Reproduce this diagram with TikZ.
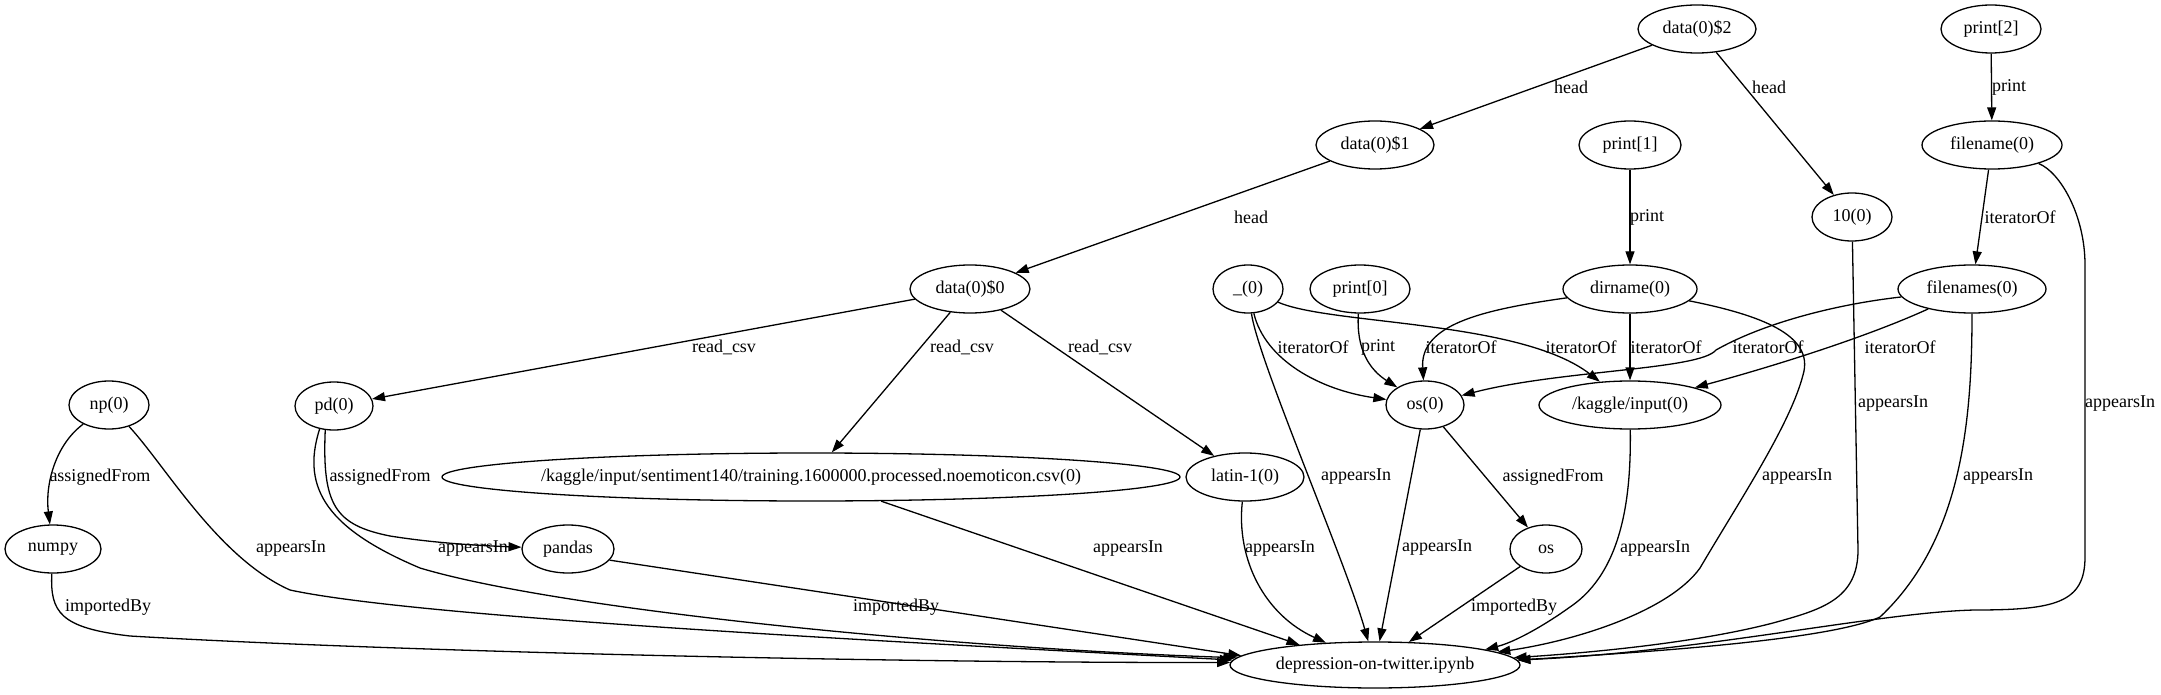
\documentclass[tikz,border=0pt]{standalone}
\usepackage{fontspec}
\setmainfont{Liberation Serif}
\usetikzlibrary{shapes.geometric,arrows.meta}
\newcommand{\gf}{\fontsize{18pt}{21pt}\selectfont}
\newcommand{\gvnode}[6]{\node[gnode, minimum width=#4pt, minimum height=#5pt, label={[nodetext]center:{#6}}] (#1) at (#2,#3) {};}
\begin{document}
\begin{tikzpicture}[x=1pt,y=-1pt,
  gnode/.style={ellipse, draw, line width=1.3pt, inner sep=0pt},
  nodetext/.style={font=\gf, inner sep=0pt},
  elbl/.style={font=\gf, inner sep=0pt},
  gedge/.style={draw, line width=1.3pt, -{Triangle[length=13pt,width=9pt]}}]
\fill[white] (0,0) rectangle (2161,695);
\useasboundingbox (0,0) rectangle (2161,695);

% nodes
\gvnode{d2}{1697}{29}{118}{48}{data(0)\$2}
\gvnode{p2}{1991}{29}{100}{48}{print[2]}
\gvnode{d1}{1375}{145}{118}{48}{data(0)\$1}
\gvnode{p1}{1630}{145}{102}{48}{print[1]}
\gvnode{fn}{1992}{145}{140}{48}{filename(0)}
\gvnode{ten}{1852}{217}{80}{48}{10(0)}
\gvnode{d0}{970}{289}{120}{48}{data(0)\$0}
\gvnode{u0}{1248}{289}{70}{48}{\_(0)}
\gvnode{p0}{1360}{289}{100}{48}{print[0]}
\gvnode{dir}{1630}{289}{134}{48}{dirname(0)}
\gvnode{fns}{1972}{289}{148}{48}{filenames(0)}
\gvnode{np}{109}{405}{80}{48}{np(0)}
\gvnode{pd}{334}{406}{78}{48}{pd(0)}
\gvnode{os0}{1425}{405}{78}{48}{os(0)}
\gvnode{kag}{1630}{405}{182}{48}{/kaggle/input(0)}
\gvnode{sent}{811}{477}{738}{48}{/kaggle/input/sentiment140/training.1600000.processed.noemoticon.csv(0)}
\gvnode{lat}{1245}{477}{118}{48}{latin-1(0)}
\gvnode{numpy}{53}{549}{96}{48}{numpy}
\gvnode{pandas}{568}{549}{92}{48}{pandas}
\gvnode{os}{1546}{549}{72}{48}{os}
\gvnode{dep}{1375}{665}{290}{46}{depression-on-twitter.ipynb}

% edges
\draw[gedge] (d2) -- (d1);
\draw[gedge] (d2) -- (ten);
\draw[gedge] (p2) -- (fn);
\draw[gedge] (d1) -- (d0);
\draw[gedge] (p1) -- (dir);
\draw[gedge] (fn) -- (fns);
\draw[gedge] (fn) .. controls (2060,172) and (2085,215) .. (2085,265) -- (2085,557) .. controls (2085,603) and (2055,610) .. (1975,610) .. controls (1880,612) and (1700,652) .. (dep.2);
\draw[gedge] (ten) -- (1858,550) .. controls (1858,600) and (1820,610) .. (1773,623) .. controls (1700,642) and (1600,652) .. (dep.3);
\draw[gedge] (fns) .. controls (1972,420) and (1962,540) .. (1880,617) .. controls (1830,640) and (1650,652) .. (dep.2.5);
\draw[gedge] (fns) .. controls (1830,305) and (1760,325) .. (1716,350) .. controls (1700,370) and (1560,370) .. (os0);
\draw[gedge] (fns) .. controls (1860,340) and (1760,370) .. (kag);
\draw[gedge] (dir) .. controls (1480,310) and (1420,325) .. (os0);
\draw[gedge] (dir) -- (kag);
\draw[gedge] (dir) .. controls (1760,315) and (1815,335) .. (1803,375) .. controls (1790,425) and (1740,500) .. (1700,568) .. controls (1670,610) and (1580,640) .. (dep.6);
\draw[gedge] (u0) .. controls (1265,360) and (1320,390) .. (os0);
\draw[gedge] (u0) .. controls (1330,325) and (1520,320) .. (kag);
\draw[gedge] (u0) .. controls (1258,360) and (1345,560) .. (dep);
\draw[gedge] (p0) .. controls (1356,350) and (1370,370) .. (os0);
\draw[gedge] (os0) -- (dep);
\draw[gedge] (os0) -- (os);
\draw[gedge] (os) -- (dep);
\draw[gedge] (kag) .. controls (1631,490) and (1625,570) .. (1570,607) .. controls (1545,625) and (1515,642) .. (dep.8);
\draw[gedge] (d0) -- (pd);
\draw[gedge] (d0) -- (sent);
\draw[gedge] (d0) -- (lat);
\draw[gedge] (np) .. controls (55,445) and (45,485) .. (numpy);
\draw[gedge] (np) .. controls (165,465) and (218,558) .. (290,590) .. controls (420,618) and (900,642) .. (dep.178);
\draw[gedge] (numpy) .. controls (50,612) and (60,628) .. (130,636) .. controls (400,652) and (900,663) .. (dep.179);
\draw[gedge] (pd.-110) .. controls (322,505) and (335,525) .. (390,536) .. controls (440,544) and (490,546) .. (pandas);
\draw[gedge] (pd.-122) .. controls (300,490) and (330,530) .. (420,568) .. controls (560,610) and (950,648) .. (dep.177);
\draw[gedge] (pandas.-15) -- (dep.176);
\draw[gedge] (sent.-19) -- (dep.165);
\draw[gedge] (lat) .. controls (1236,560) and (1265,615) .. (dep);

% edge labels
\node[elbl] (l1) at (1571,87) {head};
\node[elbl] (l2) at (1769,87) {head};
\node[elbl] (l3) at (2009,87) {print};
\node[elbl] (l4) at (1251,217) {head};
\node[elbl] (l5) at (1647,217) {print};
\node[elbl] (l6) at (2020,217) {iteratorOf};
\node[elbl] (l7) at (724,347) {read\_csv};
\node[elbl] (l8) at (962,347) {read\_csv};
\node[elbl] (l9) at (1100,347) {read\_csv};
\node[elbl] (l10) at (1313,347) {iteratorOf};
\node[elbl] (l11) at (1378,347) {print};
\node[elbl] (l12) at (1461,347) {iteratorOf};
\node[elbl] (l13) at (1581,347) {iteratorOf};
\node[elbl] (l14) at (1666,347) {iteratorOf};
\node[elbl] (l15) at (1768,347) {iteratorOf};
\node[elbl] (l16) at (1900,347) {iteratorOf};
\node[elbl] (l17) at (2120,404) {appearsIn};
\node[elbl] (l18) at (1893,404) {appearsIn};
\node[elbl] (l19) at (100,477) {assignedFrom};
\node[elbl] (l20) at (380,477) {assignedFrom};
\node[elbl] (l21) at (1356,477) {appearsIn};
\node[elbl] (l22) at (1437,548) {appearsIn};
\node[elbl] (l23) at (1553,477) {assignedFrom};
\node[elbl] (l24) at (1797,477) {appearsIn};
\node[elbl] (l25) at (1998,477) {appearsIn};
\node[elbl] (l26) at (291,549) {appearsIn};
\node[elbl] (l27) at (473,549) {appearsIn};
\node[elbl] (l28) at (1128,549) {appearsIn};
\node[elbl] (l29) at (1280,549) {appearsIn};
\node[elbl] (l30) at (1655,549) {appearsIn};
\node[elbl] (l31) at (108,607) {importedBy};
\node[elbl] (l32) at (896,607) {importedBy};
\node[elbl] (l33) at (1514,607) {importedBy};
\end{tikzpicture}
\end{document}
